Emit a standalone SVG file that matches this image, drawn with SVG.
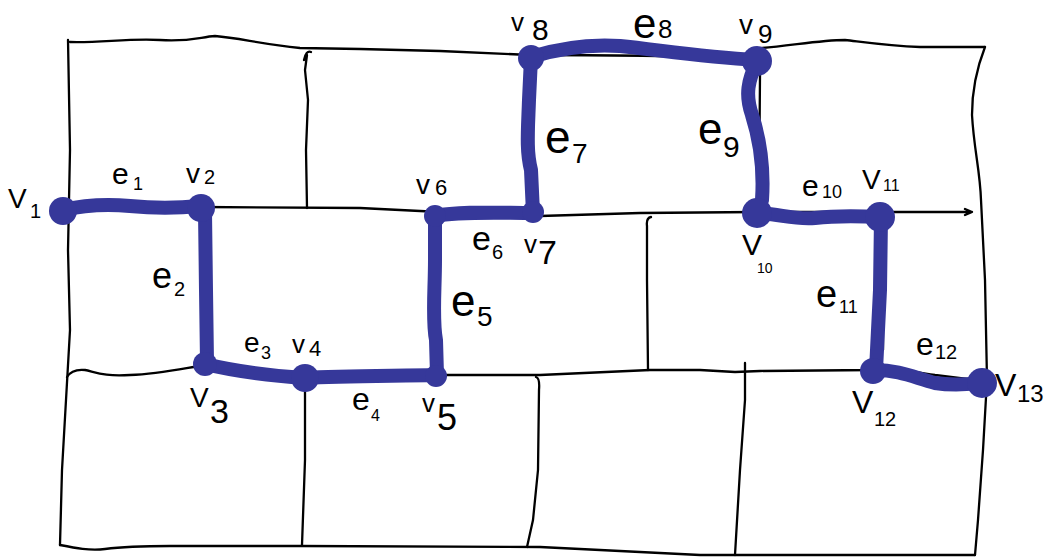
<svg xmlns="http://www.w3.org/2000/svg" width="1045" height="558" viewBox="0 0 1045 558">
<style>
.g{fill:none;stroke:#000;stroke-width:2.3;stroke-linecap:round;stroke-linejoin:round}
.e{fill:none;stroke:#36389a;stroke-width:14;stroke-linecap:round;stroke-linejoin:round}
.n{fill:#36389a}
text{font-family:"Liberation Sans","DejaVu Sans",sans-serif;fill:#000}
</style>
<rect width="1045" height="558" fill="#fff"/>
<g id="grid">
<path class="g" d="M70,42 C100,43 130,38 160,40 S200,37 215,36 C240,38 260,44 300,48 L360,49 L440,51 L530,55 C600,55 680,56 757,58"/>
<path class="g" d="M762,48 C790,46 820,40 845,40 C870,43 890,46 920,47 L985,47"/>
<path class="g" d="M68,40 L70,150 L68,250 L70,330 L66,400 L62,470 L60,545"/>
<path class="g" d="M60,545 C75,548 90,551 105,549 C120,547 140,546 170,546 L300,546 L540,547 L620,551 L700,555 L975,555"/>
<path class="g" d="M985,47 C976,70 972,95 972,115 C974,150 980,170 981,200 L985,280 L987,380 L983,450 L978,520 L975,555"/>
<path class="g" d="M200,207 L360,208 L440,212 L540,216 L640,213 L757,212 L880,212 L972,212 M965,209 L972,212 L965,215"/>
<path class="g" d="M67,377 C70,372 75,369 85,370 C95,372 105,377 130,375 C160,374 185,368 205,365"/>
<path class="g" d="M320,376 L437,375 L540,375 L650,370 L700,370 L735,372 L760,371 L873,370 C900,368 915,372 935,375 L975,380"/>
<path class="g" d="M304,60 Q306,50 311,52 M307,55 L305,70 L308,100 L306,150 L307,208"/>
<path class="g" d="M651,217 Q646,218 647,226 L647,280 L648,370"/>
<path class="g" d="M305,380 L305,460 L302,545"/>
<path class="g" d="M536,377 Q540,378 539,390 L538,470 L533,520 L527,547"/>
<path class="g" d="M745,363 L745,400 L740,470 L735,555"/>
<path class="g" d="M533,75 L533,195 M760,75 L759,200 M883,225 L883,350"/>
</g>
<g id="connectors">
<g id="e1"><path class="e" d="M62,210 C80,206 100,203 130,206 S180,208 200,206"/><text x="112" y="184" font-size="30">e<tspan x="133" y="190" font-size="18">1</tspan></text></g>
<g id="e2"><path class="e" d="M205,212 L206,290 L207,362"/><text x="152" y="288" font-size="36">e<tspan x="174" y="296" font-size="20">2</tspan></text></g>
<g id="e3"><path class="e" d="M205,364 C230,370 260,375 305,378"/><text x="244" y="352" font-size="28">e<tspan x="261" y="359" font-size="18">3</tspan></text></g>
<g id="e4"><path class="e" d="M305,378 C340,376 390,376 437,375"/><text x="352" y="410" font-size="32">e<tspan x="371" y="421" font-size="16">4</tspan></text></g>
<g id="e5"><path class="e" d="M437,375 L436,340 C432,320 435,290 435,260 L435,216"/><text x="451" y="316" font-size="44">e<tspan x="477" y="326" font-size="28">5</tspan></text></g>
<g id="e6"><path class="e" d="M435,216 C460,211 500,213 533,213"/><text x="472" y="250" font-size="34">e<tspan x="492" y="259" font-size="20">6</tspan></text></g>
<g id="e7"><path class="e" d="M533,213 L531,170 C526,150 528,130 529,100 L531,58"/><text x="545" y="153" font-size="46">e<tspan x="572" y="163" font-size="28">7</tspan></text></g>
<g id="e8"><path class="e" d="M531,57 C560,48 590,44 620,46 C660,50 700,57 757,60"/><text x="633" y="38" font-size="42">e<tspan x="658" y="38" font-size="26">8</tspan></text></g>
<g id="e9"><path class="e" d="M757,62 C748,80 745,95 752,115 C760,140 764,170 762,200 L757,213"/><text x="698" y="144" font-size="44">e<tspan x="723" y="157" font-size="30">9</tspan></text></g>
<g id="e10"><path class="e" d="M757,213 C780,214 795,220 815,218 C840,215 860,216 881,217"/><text x="802" y="196" font-size="30">e<tspan x="822" y="198" font-size="18">10</tspan></text></g>
<g id="e11"><path class="e" d="M881,217 L880,290 L876,370"/><text x="816" y="307" font-size="38">e<tspan x="839" y="313" font-size="18">11</tspan></text></g>
<g id="e12"><path class="e" d="M875,370 C900,370 915,378 935,383 C955,386 970,384 982,383"/><text x="916" y="355" font-size="32">e<tspan x="935" y="359" font-size="20">12</tspan></text></g>
</g>
<g id="v1"><circle class="n" cx="63" cy="211" r="14"/><text x="8" y="208" font-size="28">V<tspan x="30" y="218" font-size="20">1</tspan></text></g>
<g id="v2"><circle class="n" cx="201" cy="208" r="14"/><text x="186" y="183" font-size="28">v<tspan x="204" y="184" font-size="20">2</tspan></text></g>
<g id="v3"><circle class="n" cx="205" cy="364" r="12"/><text x="190" y="407" font-size="28">V<tspan x="210" y="423" font-size="34">3</tspan></text></g>
<g id="v4"><circle class="n" cx="305" cy="378" r="14"/><text x="292" y="353" font-size="26">v<tspan x="309" y="356" font-size="22">4</tspan></text></g>
<g id="v5"><circle class="n" cx="436" cy="376" r="11"/><text x="422" y="412" font-size="26">v<tspan x="437" y="430" font-size="36">5</tspan></text></g>
<g id="v6"><circle class="n" cx="435" cy="216" r="11"/><text x="416" y="194" font-size="28">v<tspan x="435" y="195" font-size="22">6</tspan></text></g>
<g id="v7"><circle class="n" cx="533" cy="212" r="11"/><text x="524" y="253" font-size="26">v<tspan x="538" y="264" font-size="34">7</tspan></text></g>
<g id="v8"><circle class="n" cx="531" cy="58" r="13"/><text x="511" y="31" font-size="26">v<tspan x="532" y="40" font-size="30">8</tspan></text></g>
<g id="v9"><circle class="n" cx="757" cy="61" r="15"/><text x="739" y="34" font-size="28">v<tspan x="758" y="43" font-size="26">9</tspan></text></g>
<g id="v10"><circle class="n" cx="757" cy="213" r="15"/><text x="742" y="255" font-size="30">V<tspan x="757" y="273" font-size="14">10</tspan></text></g>
<g id="v11"><circle class="n" cx="880" cy="217" r="15"/><text x="862" y="189" font-size="28">V<tspan x="883" y="191" font-size="16">11</tspan></text></g>
<g id="v12"><circle class="n" cx="873" cy="371" r="13"/><text x="852" y="413" font-size="32">V<tspan x="874" y="426" font-size="20">12</tspan></text></g>
<g id="v13"><circle class="n" cx="982" cy="383" r="15"/><text x="995" y="396" font-size="32">V<tspan x="1017" y="402" font-size="24">13</tspan></text></g>
</svg>
